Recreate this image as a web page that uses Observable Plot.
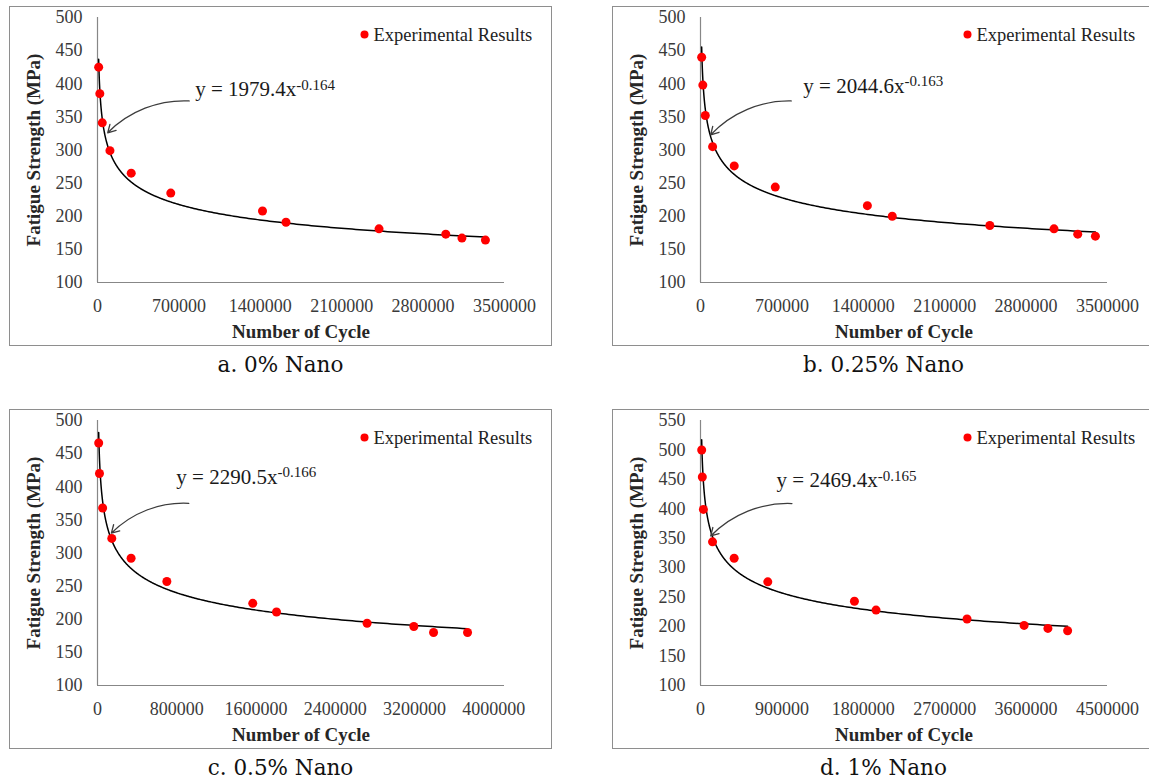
<!DOCTYPE html>
<html><head><meta charset="utf-8">
<script src="https://cdn.jsdelivr.net/npm/d3@7"></script>
<script src="https://cdn.jsdelivr.net/npm/@observablehq/plot@0.6"></script>
<style>
html,body{margin:0;padding:0;background:#fff;}
#root{position:relative;width:1149px;height:782px;overflow:hidden;background:#fff;}
.panel{position:absolute;width:543px;height:340px;}
.panel svg{display:block;outline:1px solid #8e8e8e;outline-offset:-1px;}
.caption{position:absolute;width:543px;text-align:center;font-family:"DejaVu Serif";font-size:21.5px;color:#111;line-height:1;white-space:nowrap;}
</style></head><body><div id="root"></div>
<script>
// ---- data ----
const captions = ["a. 0% Nano", "b. 0.25% Nano", "c. 0.5% Nano", "d. 1% Nano"];
const cyclesA = [10000, 20000, 41000, 107000, 290000, 630000, 1419000, 1621000, 2421000, 2995000, 3134000, 3336000];
const strengthA = [425, 385, 341, 299, 265, 235, 208, 191, 181, 173, 167, 164];
const cyclesB = [10000, 20000, 41000, 104000, 290000, 643000, 1435000, 1649000, 2488000, 3040000, 3244000, 3396000];
const strengthB = [440, 398, 352, 305, 276, 244, 216, 200, 186, 181, 173, 170];
const cyclesC = [12000, 20000, 52000, 144000, 339000, 700000, 1567000, 1807000, 2721000, 3193000, 3392000, 3735000];
const strengthC = [466, 420, 368, 322, 292, 257, 224, 211, 194, 189, 180, 180];
const cyclesD = [13000, 20000, 32000, 133000, 372000, 744000, 1702000, 1941000, 2947000, 3578000, 3841000, 4059000];
const strengthD = [500, 454, 399, 344, 316, 276, 243, 228, 213, 202, 197, 193];
const fitCoef = [1979.4, 2044.6, 2290.5, 2469.4];
const fitExp = [-0.164, -0.163, -0.166, -0.165];
const equations = ["y = 1979.4x^-0.164", "y = 2044.6x^-0.163", "y = 2290.5x^-0.166", "y = 2469.4x^-0.165"];
const xTicksA = [0, 700000, 1400000, 2100000, 2800000, 3500000];
const xTicksB = [0, 700000, 1400000, 2100000, 2800000, 3500000];
const xTicksC = [0, 800000, 1600000, 2400000, 3200000, 4000000];
const xTicksD = [0, 900000, 1800000, 2700000, 3600000, 4500000];
const yTicksA = [100, 150, 200, 250, 300, 350, 400, 450, 500];
const yTicksB = [100, 150, 200, 250, 300, 350, 400, 450, 500];
const yTicksC = [100, 150, 200, 250, 300, 350, 400, 450, 500];
const yTicksD = [100, 150, 200, 250, 300, 350, 400, 450, 500, 550];
const xMax = [3500000, 3500000, 4108000, 4500000];
const legendLabel = "Experimental Results";
const xTitle = "Number of Cycle";
const yTitle = "Fatigue Strength (MPa)";

// annotation anchors (data coordinates): equation position, arrow start/end
const annotations = [
  {ex: 840000, ey: 391, ax1: 788000, ay1: 374, ax2: 88000, ay2: 326},
  {ex: 884000, ey: 396, ax1: 780000, ay1: 374, ax2: 88000, ay2: 323},
  {ex: 796000, ey: 414, ax1: 922000, ay1: 375, ax2: 140000, ay2: 330},
  {ex: 841000, ey: 448, ax1: 1011000, ay1: 409, ax2: 113000, ay2: 354}
];

const cycles = [cyclesA, cyclesB, cyclesC, cyclesD];
const strengths = [strengthA, strengthB, strengthC, strengthD];
const xTicks = [xTicksA, xTicksB, xTicksC, xTicksD];
const yTicks = [yTicksA, yTicksB, yTicksC, yTicksD];
const panelPos = [[9, 6], [612, 6], [9, 409], [612, 409]];
const captionTop = [354, 354, 757, 757];

const root = document.getElementById("root");
const fmt = d3.format("d");

for (let i = 0; i < 4; i++) {
  const rows = cycles[i].map((c, j) => ({cycle: c, strength: strengths[i][j]}));
  const cMin = d3.min(cycles[i]), cMax = d3.max(cycles[i]);
  const curve = d3.range(0, 401).map(k => {
    const c = cMin * Math.pow(cMax / cMin, k / 400);
    return {cycle: c, strength: fitCoef[i] * Math.pow(c, fitExp[i])};
  });
  const yMin = yTicks[i][0], yMax = yTicks[i][yTicks[i].length - 1];
  const ann = annotations[i];
  const svg = Plot.plot({
    width: 543, height: 340,
    marginLeft: 88, marginTop: 11, marginRight: 48, marginBottom: 64,
    x: {type: "linear", domain: [0, xMax[i]]},
    y: {type: "linear", domain: [yMin, yMax]},
    style: {fontFamily: "'Liberation Serif', 'Times New Roman', serif", fontSize: "18px", color: "#3a3a3a", background: "#fff", overflow: "visible"},
    marks: [
      Plot.ruleX([0], {y1: yMin, y2: yMax, stroke: "#878787", strokeWidth: 1.2}),
      Plot.ruleY([yMin], {x1: 0, x2: xMax[i], stroke: "#878787", strokeWidth: 1.2}),
      Plot.axisX({ticks: xTicks[i], tickSize: 0, tickPadding: 17, tickFormat: fmt, label: null, fontSize: 18}),
      Plot.axisY({ticks: yTicks[i], tickSize: 0, tickPadding: 15, label: null, fontSize: 18}),
      Plot.line(curve, {x: "cycle", y: "strength", stroke: "#000", strokeWidth: 1.5}),
      Plot.dot(rows, {x: "cycle", y: "strength", r: 4.5, fill: "#ff0000", stroke: "none"}),
      Plot.arrow([ann], {x1: "ax1", y1: "ay1", x2: "ax2", y2: "ay2", bend: -24, stroke: "#3c3c3c", strokeWidth: 1.3, headLength: 10}),
      Plot.text([equations[i]], {x: () => ann.ex, y: () => ann.ey, text: d => d, textAnchor: "start", lineAnchor: "middle", fontSize: 21, fill: "#1a1a1a"}),
      Plot.dot([legendLabel], {frameAnchor: "top-right", dx: -140, dy: 17, r: 4, fill: "#ff0000", stroke: "none"}),
      Plot.text([legendLabel], {frameAnchor: "top-right", dx: -131, dy: 18, text: d => d, textAnchor: "start", lineAnchor: "middle", fontSize: 18.5, fill: "#222"}),
      Plot.text([yTitle], {frameAnchor: "left", dx: -64, rotate: -90, text: d => d, textAnchor: "middle", lineAnchor: "middle", fontSize: 19, fontWeight: "bold", fill: "#262626"}),
      Plot.text([xTitle], {frameAnchor: "bottom", dy: 49, text: d => d, textAnchor: "middle", lineAnchor: "middle", fontSize: 19, fontWeight: "bold", fill: "#262626"})
    ]
  });
  // superscript exponent of the fitted equation
  d3.select(svg).selectAll("text").each(function () {
    const t = this.textContent;
    if (t.includes("^")) {
      const [base, ex] = t.split("^");
      this.textContent = base;
      d3.select(this).append("tspan").attr("dy", "-0.45em").attr("font-size", 15).text(ex);
    }
  });
  const div = document.createElement("div");
  div.className = "panel";
  div.style.left = panelPos[i][0] + "px";
  div.style.top = panelPos[i][1] + "px";
  div.appendChild(svg);
  root.appendChild(div);
  const cap = document.createElement("div");
  cap.className = "caption";
  cap.style.left = panelPos[i][0] + "px";
  cap.style.top = captionTop[i] + "px";
  cap.textContent = captions[i];
  root.appendChild(cap);
}
</script></body></html>
